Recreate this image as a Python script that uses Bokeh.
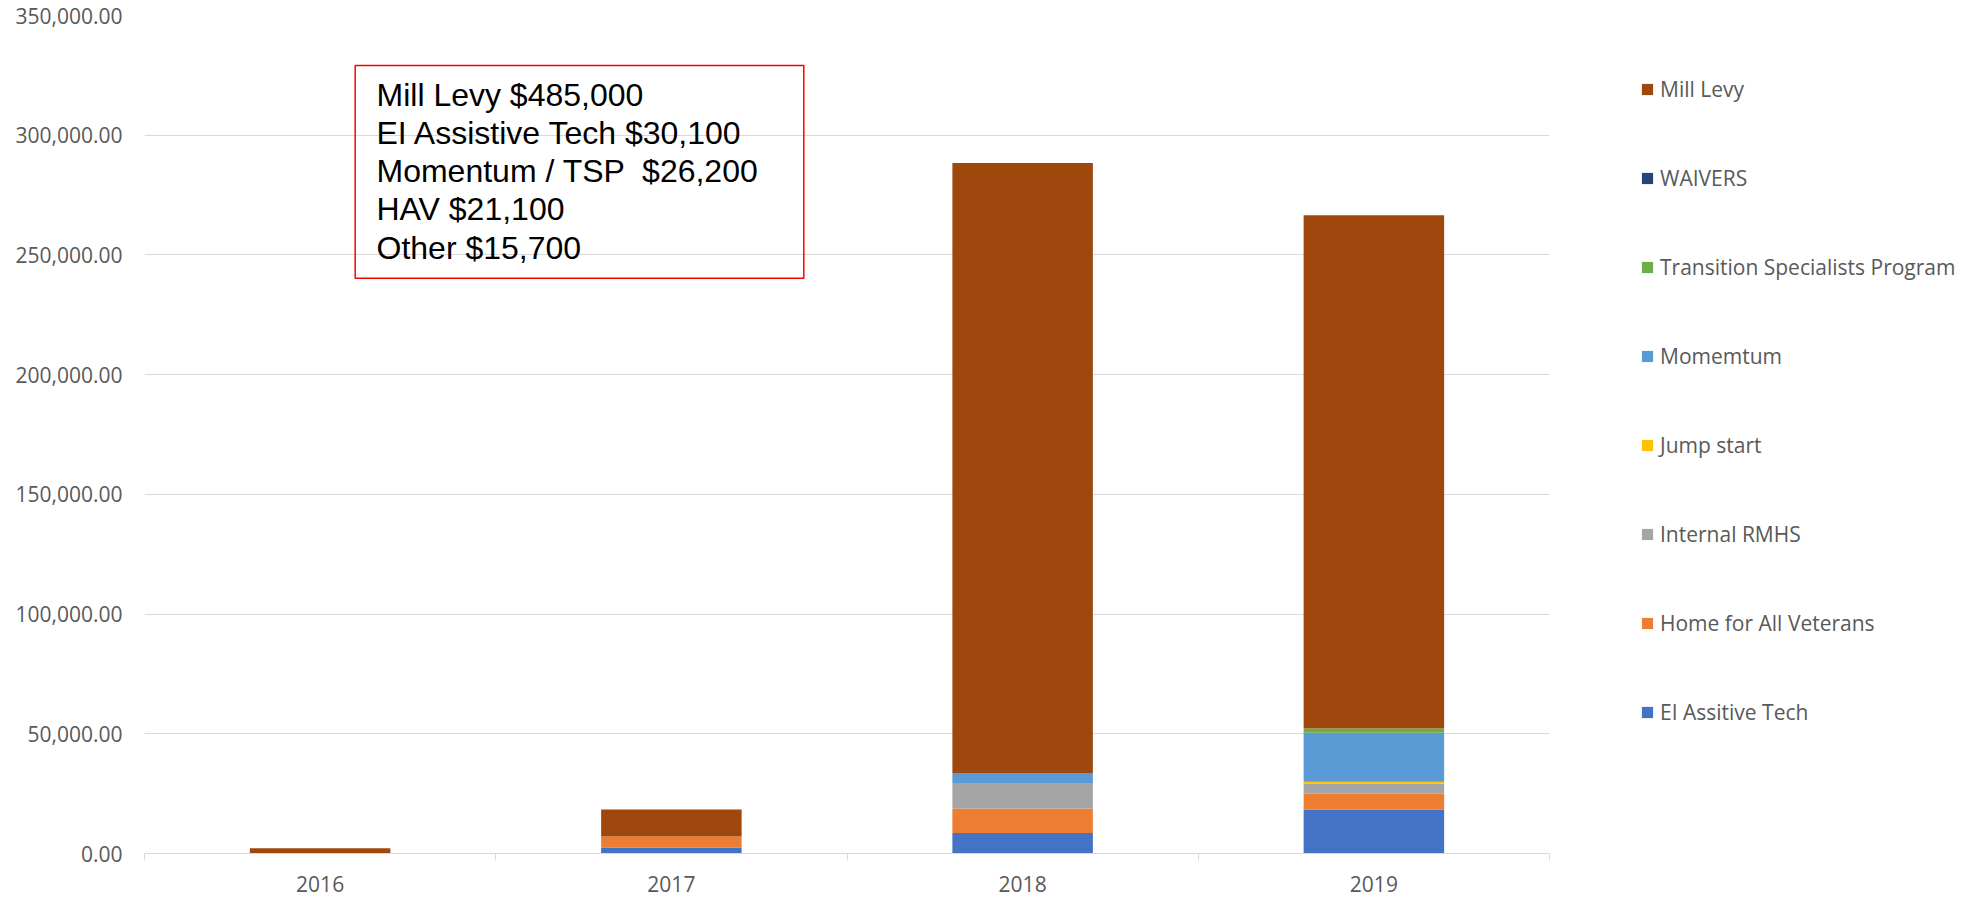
from bokeh.plotting import figure
from bokeh.models import (ColumnDataSource, Range1d, FixedTicker, NumeralTickFormatter,
                          Legend, LegendItem, BoxAnnotation)
from bokeh.core.properties import value
from bokeh.embed import file_html
from bokeh.resources import INLINE

# ---- data ----
years = ["2016", "2017", "2018", "2019"]
ei_assitive_tech = [0, 2500, 8600, 18300]
home_for_all_veterans = [0, 4600, 10200, 6700]
internal_rmhs = [0, 0, 10300, 4200]
jump_start = [0, 0, 0, 800]
momemtum = [0, 0, 4300, 20400]
transition_specialists = [0, 0, 0, 1800]
waivers = [0, 0, 0, 0]
mill_levy = [2200, 11300, 255000, 214400]

series_names = ["EI Assitive Tech", "Home for All Veterans", "Internal RMHS", "Jump start",
                "Momemtum", "Transition Specialists Program", "WAIVERS", "Mill Levy"]
series_values = [ei_assitive_tech, home_for_all_veterans, internal_rmhs, jump_start,
                 momemtum, transition_specialists, waivers, mill_levy]
series_colors = ["#4472C4", "#ED7D31", "#A5A5A5", "#FFC000",
                 "#5B9BD5", "#70AD47", "#264478", "#9E480E"]

y_ticks = [0, 50000, 100000, 150000, 200000, 250000, 300000, 350000]

annotation_lines = ["Mill Levy $485,000", "EI Assistive Tech $30,100",
                    "Momentum / TSP \u00a0$26,200", "HAV $21,100", "Other $15,700"]

# ---- layout constants ----
FRAME_W, FRAME_H = 1405, 838
Y_MAX = 350000
n = len(years)
xs = [i + 0.5 for i in range(n)]

data = {"x": xs}
for name, vals in zip(series_names, series_values):
    data[name] = vals
source = ColumnDataSource(data)

p = figure(frame_width=FRAME_W, frame_height=FRAME_H,
           min_border_left=144, min_border_top=15, min_border_right=405, min_border_bottom=44,
           x_range=Range1d(0, n), y_range=Range1d(0, Y_MAX),
           output_backend="svg", toolbar_location=None, tools="")
p.outline_line_color = None
p.background_fill_color = "white"

renderers = p.vbar_stack(series_names, x="x", width=0.4, color=series_colors,
                         line_color=None, source=source)

# axes
p.xaxis.ticker = FixedTicker(ticks=xs, minor_ticks=list(range(n + 1)))
p.xaxis.major_label_overrides = {x: y for x, y in zip(xs, years)}
p.xaxis.major_tick_line_color = None
p.xaxis.major_tick_out = 0
p.xaxis.minor_tick_line_color = "#D9D9D9"
p.xaxis.minor_tick_in = 0
p.xaxis.minor_tick_out = 7
p.xaxis.axis_line_color = "#D9D9D9"
p.xaxis.major_label_text_font = "Open Sans"
p.xaxis.major_label_text_font_size = "21px"
p.xaxis.major_label_text_color = "#595959"
p.xaxis.major_label_standoff = 15

p.yaxis.ticker = FixedTicker(ticks=y_ticks)
p.yaxis.formatter = NumeralTickFormatter(format="0,0.00")
p.yaxis.axis_line_color = None
p.yaxis.major_tick_line_color = None
p.yaxis.minor_tick_line_color = None
p.yaxis.major_tick_out = 0
p.yaxis.major_label_text_font = "Open Sans"
p.yaxis.major_label_text_font_size = "21px"
p.yaxis.major_label_text_color = "#595959"
p.yaxis.major_label_standoff = 22

p.xgrid.grid_line_color = None
p.ygrid.grid_line_color = "#D9D9D9"
p.ygrid.grid_line_width = 1

# annotation box
px_x = n / FRAME_W          # data units per px (x)
px_y = Y_MAX / FRAME_H      # data units per px (y)
box = BoxAnnotation(left=210.7 * px_x, right=659.3 * px_x,
                    top=(FRAME_H - 50) * px_y, bottom=(FRAME_H - 262.7) * px_y,
                    fill_alpha=0, line_color="#FF0000", line_alpha=1.0, line_width=1.5)
p.add_layout(box)

ann_src = ColumnDataSource({
    "x": [232 * px_x] * len(annotation_lines),
    "y": [(FRAME_H - 79 - 38.3 * i) * px_y for i in range(len(annotation_lines))],
    "t": annotation_lines,
})
p.text(x="x", y="y", text="t", source=ann_src, text_font=value("Liberation Sans"),
       text_font_size="32px", text_color="black", text_baseline="alphabetic", text_align="left")

# legend
items = [LegendItem(label=nm, renderers=[r]) for nm, r in zip(series_names, renderers)][::-1]
legend = Legend(items=items, location=(91, 127), orientation="vertical",
                glyph_width=14, glyph_height=14, label_height=24, spacing=61,
                label_standoff=6, padding=0, margin=0,
                border_line_color=None, background_fill_alpha=0,
                label_text_font="Open Sans", label_text_font_size="21px",
                label_text_color="#595959")
p.add_layout(legend, "right")

open("out.html", "w").write(file_html(p, INLINE))
